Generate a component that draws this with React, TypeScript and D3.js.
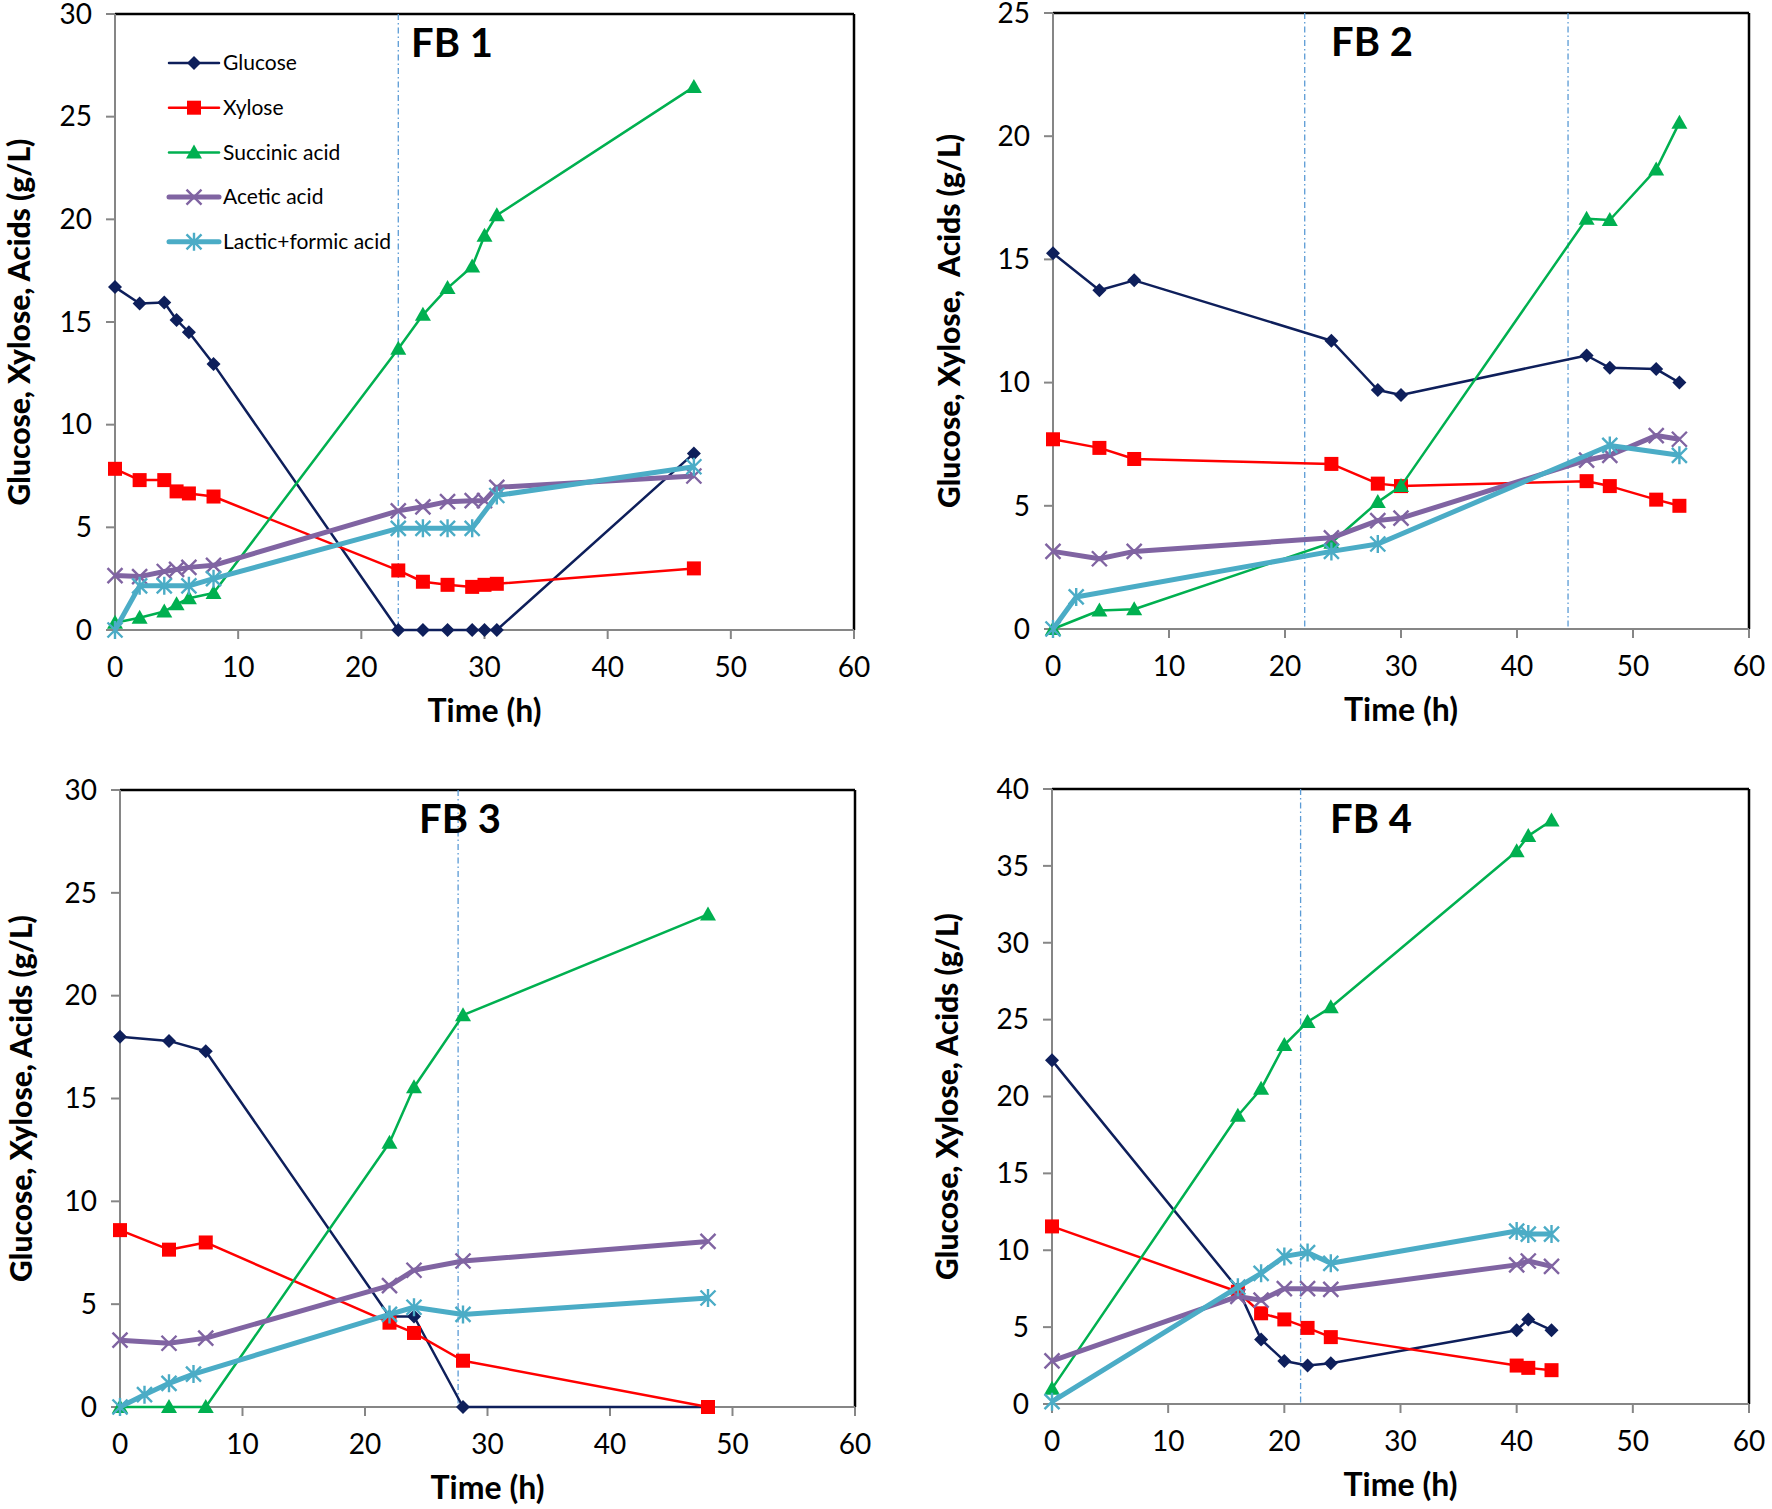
import React from "react";
import * as d3 from "d3";

// ---------- DATA ----------
const seriesNames = ["Glucose", "Xylose", "Succinic acid", "Acetic acid", "Lactic+formic acid"];
const xTicks = [0, 10, 20, 30, 40, 50, 60];

// FB 1
const fb1Time = [0, 2, 4, 5, 6, 8, 23, 25, 27, 29, 30, 31, 47];
const fb1Glucose = [16.7, 15.9, 15.95, 15.1, 14.5, 12.95, 0, 0, 0, 0, 0, 0, 8.6];
const fb1Xylose = [7.85, 7.3, 7.3, 6.75, 6.65, 6.5, 2.9, 2.35, 2.2, 2.1, 2.2, 2.25, 3.0];
const fb1Succinic = [0.35, 0.6, 0.9, 1.25, 1.55, 1.8, 13.7, 15.35, 16.65, 17.7, 19.2, 20.2, 26.45];
const fb1Acetic = [2.65, 2.6, 2.85, 2.95, 3.05, 3.15, 5.8, 6.0, 6.25, 6.3, 6.3, 6.95, 7.5];
const fb1LacticTime = [0, 2, 4, 6, 8, 23, 25, 27, 29, 31, 47];
const fb1Lactic = [0, 2.15, 2.15, 2.15, 2.5, 4.95, 4.95, 4.95, 4.95, 6.55, 7.95];
const fb1Feeds = [23];

// FB 2
const fb2Time = [0, 4, 7, 24, 28, 30, 46, 48, 52, 54];
const fb2Glucose = [15.25, 13.75, 14.15, 11.7, 9.7, 9.5, 11.1, 10.6, 10.55, 10.0];
const fb2Xylose = [7.7, 7.35, 6.9, 6.7, 5.9, 5.8, 6.0, 5.8, 5.25, 5.0];
const fb2Succinic = [0, 0.75, 0.8, 3.5, 5.15, 5.8, 16.65, 16.6, 18.65, 20.55];
const fb2Acetic = [3.15, 2.85, 3.15, 3.7, 4.4, 4.5, 6.85, 7.05, 7.85, 7.7];
const fb2LacticTime = [0, 2, 24, 28, 48, 54];
const fb2Lactic = [0, 1.3, 3.15, 3.45, 7.45, 7.05];
const fb2Feeds = [21.7, 44.4];

// FB 3
const fb3Time = [0, 4, 7, 22, 24, 28, 48];
const fb3Glucose = [18.0, 17.8, 17.3, 4.4, 4.4, 0, 0];
const fb3Xylose = [8.6, 7.65, 8.0, 4.1, 3.6, 2.25, 0];
const fb3Succinic = [0, 0, 0, 12.85, 15.55, 19.05, 23.95];
const fb3Acetic = [3.25, 3.1, 3.35, 5.9, 6.65, 7.1, 8.05];
const fb3LacticTime = [0, 2, 4, 6, 22, 24, 28, 48];
const fb3Lactic = [0, 0.6, 1.15, 1.6, 4.5, 4.85, 4.5, 5.3];
const fb3Feeds = [27.6];

// FB 4
const fb4Time = [0, 16, 18, 20, 22, 24, 40, 41, 43];
const fb4Glucose = [22.35, 7.5, 4.2, 2.8, 2.5, 2.65, 4.8, 5.5, 4.8];
const fb4Xylose = [11.55, 7.3, 5.9, 5.5, 4.95, 4.35, 2.5, 2.35, 2.2];
const fb4Succinic = [1.0, 18.75, 20.5, 23.35, 24.85, 25.8, 35.95, 36.95, 37.95];
const fb4Acetic = [2.8, 7.0, 6.75, 7.5, 7.5, 7.45, 9.05, 9.3, 8.95];
const fb4Lactic = [0.15, 7.6, 8.5, 9.6, 9.85, 9.15, 11.25, 11.05, 11.05];
const fb4Feeds = [21.4];

// ---------- STYLE ----------
const colors = ["#0e1f5b", "#ff0000", "#00b050", "#8064a2", "#4bacc6"];
const widths = [2.5, 2.5, 2.5, 5, 5];
const markers = ["diamond", "square", "triangle", "x", "star"];
const FONT = "Lato, 'Open Sans', sans-serif";

type Panel = {
  title: string;
  left: number; right: number; top: number; bottom: number;
  yMax: number; yLabel: string; yLabelX: number;
  titleX: number; titleY: number;
  feeds: number[];
  series: { t: number[]; v: number[] }[];
  legend?: boolean;
};

const panels: Panel[] = [
  {
    title: "FB 1", left: 115, right: 854, top: 14, bottom: 630, yMax: 30,
    yLabel: "Glucose, Xylose, Acids (g/L)", yLabelX: 30, titleX: 452, titleY: 57,
    feeds: fb1Feeds, legend: true,
    series: [
      { t: fb1Time, v: fb1Glucose }, { t: fb1Time, v: fb1Xylose }, { t: fb1Time, v: fb1Succinic },
      { t: fb1Time, v: fb1Acetic }, { t: fb1LacticTime, v: fb1Lactic },
    ],
  },
  {
    title: "FB 2", left: 1053, right: 1749, top: 13, bottom: 629, yMax: 25,
    yLabel: "Glucose, Xylose,  Acids (g/L)", yLabelX: 960, titleX: 1372, titleY: 56,
    feeds: fb2Feeds,
    series: [
      { t: fb2Time, v: fb2Glucose }, { t: fb2Time, v: fb2Xylose }, { t: fb2Time, v: fb2Succinic },
      { t: fb2Time, v: fb2Acetic }, { t: fb2LacticTime, v: fb2Lactic },
    ],
  },
  {
    title: "FB 3", left: 120, right: 855, top: 790, bottom: 1407, yMax: 30,
    yLabel: "Glucose, Xylose, Acids (g/L)", yLabelX: 32, titleX: 460, titleY: 833,
    feeds: fb3Feeds,
    series: [
      { t: fb3Time, v: fb3Glucose }, { t: fb3Time, v: fb3Xylose }, { t: fb3Time, v: fb3Succinic },
      { t: fb3Time, v: fb3Acetic }, { t: fb3LacticTime, v: fb3Lactic },
    ],
  },
  {
    title: "FB 4", left: 1052, right: 1749, top: 789, bottom: 1404, yMax: 40,
    yLabel: "Glucose, Xylose, Acids (g/L)", yLabelX: 958, titleX: 1371, titleY: 833,
    feeds: fb4Feeds,
    series: [
      { t: fb4Time, v: fb4Glucose }, { t: fb4Time, v: fb4Xylose }, { t: fb4Time, v: fb4Succinic },
      { t: fb4Time, v: fb4Acetic }, { t: fb4Time, v: fb4Lactic },
    ],
  },
];

function Marker({ kind, x, y, color }: { kind: string; x: number; y: number; color: string }) {
  if (kind === "diamond") {
    const r = 7;
    return <path d={`M${x},${y - r}L${x + r},${y}L${x},${y + r}L${x - r},${y}Z`} fill={color} />;
  }
  if (kind === "square") {
    const r = 7;
    return <rect x={x - r} y={y - r} width={2 * r} height={2 * r} fill={color} />;
  }
  if (kind === "triangle") {
    const r = 8;
    return <path d={`M${x},${y - r}L${x + r},${y + r * 0.75}L${x - r},${y + r * 0.75}Z`} fill={color} />;
  }
  if (kind === "x") {
    const r = 7.5;
    return (
      <path d={`M${x - r},${y - r}L${x + r},${y + r}M${x - r},${y + r}L${x + r},${y - r}`}
        stroke={color} strokeWidth={2.4} fill="none" />
    );
  }
  const r = 7.5;
  return (
    <path d={`M${x - r},${y - r}L${x + r},${y + r}M${x - r},${y + r}L${x + r},${y - r}M${x},${y - r * 1.2}L${x},${y + r * 1.2}`}
      stroke={color} strokeWidth={2.4} fill="none" />
  );
}

function PanelChart({ p }: { p: Panel }) {
  const x = d3.scaleLinear().domain([0, 60]).range([p.left, p.right]);
  const y = d3.scaleLinear().domain([0, p.yMax]).range([p.bottom, p.top]);
  const yTicks = d3.range(0, p.yMax + 0.001, 5);
  const line = d3.line<[number, number]>().x((d) => x(d[0])).y((d) => y(d[1]));
  const cy = (p.top + p.bottom) / 2;
  const cx = (p.left + p.right) / 2;
  return (
    <g>
      {/* plot border */}
      <line x1={p.left} y1={p.top} x2={p.right} y2={p.top} stroke="#000" strokeWidth={2.5} />
      <line x1={p.right} y1={p.top} x2={p.right} y2={p.bottom} stroke="#000" strokeWidth={2.5} />
      {/* feed lines */}
      {p.feeds.map((f, i) => (
        <line key={i} x1={x(f)} x2={x(f)} y1={p.top} y2={p.bottom} stroke="#5b9bd5"
          strokeWidth={1.3} strokeDasharray="6,3,1.5,3" />
      ))}
      {/* axes */}
      <line x1={p.left} y1={p.top} x2={p.left} y2={p.bottom} stroke="#868686" strokeWidth={2} />
      <line x1={p.left} y1={p.bottom} x2={p.right} y2={p.bottom} stroke="#868686" strokeWidth={2} />
      {yTicks.map((t) => (
        <g key={t}>
          <line x1={p.left - 9} x2={p.left} y1={y(t)} y2={y(t)} stroke="#868686" strokeWidth={2} />
          <text x={p.left - 23} y={y(t)} dy="0.35em" textAnchor="end" fontSize={28} fontFamily={FONT} fill="#000">
            {t}
          </text>
        </g>
      ))}
      {xTicks.map((t) => (
        <g key={t}>
          <line x1={x(t)} x2={x(t)} y1={p.bottom} y2={p.bottom + 9} stroke="#868686" strokeWidth={2} />
          <text x={x(t)} y={p.bottom + 47} textAnchor="middle" fontSize={28} fontFamily={FONT} fill="#000">
            {t}
          </text>
        </g>
      ))}
      {/* series */}
      {p.series.map((s, i) => {
        const pts: [number, number][] = s.t.map((t, k) => [t, s.v[k]]);
        return (
          <g key={i}>
            <path d={line(pts) || ""} fill="none" stroke={colors[i]} strokeWidth={widths[i]} strokeLinejoin="round" />
            {pts.map((d, k) => (
              <Marker key={k} kind={markers[i]} x={x(d[0])} y={y(d[1])} color={colors[i]} />
            ))}
          </g>
        );
      })}
      {/* titles */}
      <text x={p.titleX} y={p.titleY} textAnchor="middle" fontSize={40} fontWeight="bold" fontFamily={FONT}>
        {p.title}
      </text>
      <text x={cx} y={p.bottom + 92} textAnchor="middle" fontSize={32} fontWeight="bold" fontFamily={FONT}>
        Time (h)
      </text>
      <text transform={`translate(${p.yLabelX},${cy}) rotate(-90)`} textAnchor="middle" fontSize={30}
        fontWeight="900" fontFamily={FONT} style={{ whiteSpace: "pre" }}>
        {p.yLabel}
      </text>
      {/* legend */}
      {p.legend &&
        seriesNames.map((n, i) => {
          const ly = 63 + i * 44.7;
          return (
            <g key={n}>
              <line x1={169} x2={219} y1={ly} y2={ly} stroke={colors[i]} strokeWidth={widths[i]} strokeLinecap="round" />
              <Marker kind={markers[i]} x={194} y={ly} color={colors[i]} />
              <text x={223} y={ly} dy="0.35em" fontSize={21} fontFamily={FONT} fill="#000">
                {n}
              </text>
            </g>
          );
        })}
    </g>
  );
}

export default function App() {
  return (
    <div style={{ position: "absolute", left: 0, top: 0 }}>
      <svg width={1772} height={1509} style={{ display: "block", background: "#fff" }}>
        <rect width={1772} height={1509} fill="#fff" />
        {panels.map((p) => (
          <PanelChart key={p.title} p={p} />
        ))}
      </svg>
    </div>
  );
}
